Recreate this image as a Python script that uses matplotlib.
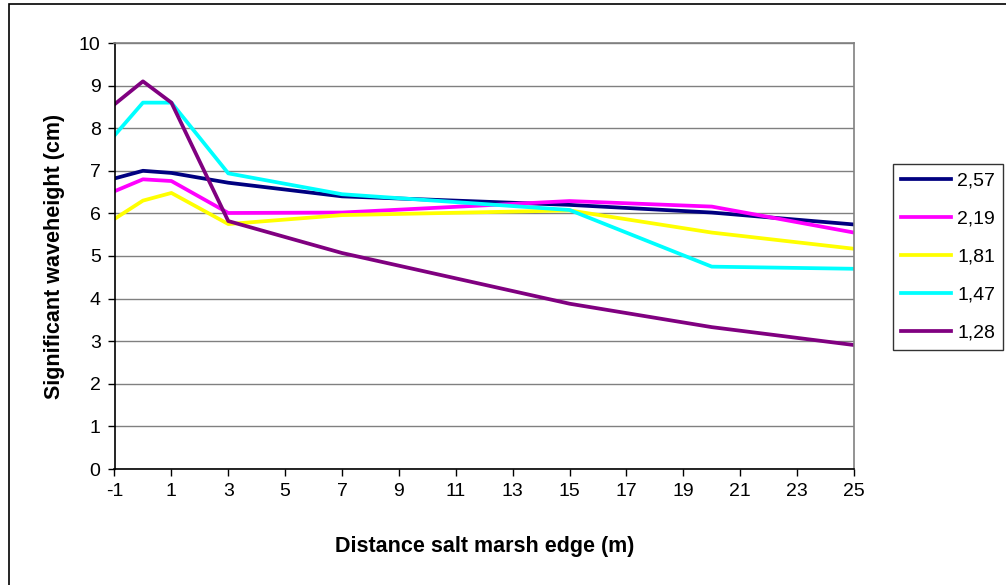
import matplotlib
matplotlib.use("Agg")
import matplotlib.pyplot as plt
from matplotlib.patches import Rectangle

plt.rcParams['font.family'] = ['Liberation Sans', 'DejaVu Sans']
plt.rcParams['axes.unicode_minus'] = False

# distance from salt marsh edge (m)
distance = [-1, 0, 1, 3, 7, 15, 20, 25]
labels = ['2,57', '2,19', '1,81', '1,47', '1,28']
h_257 = [6.82, 7.00, 6.95, 6.72, 6.40, 6.20, 6.02, 5.74]
h_219 = [6.52, 6.80, 6.76, 6.01, 6.02, 6.29, 6.16, 5.55]
h_181 = [5.87, 6.30, 6.48, 5.75, 5.96, 6.07, 5.55, 5.17]
h_147 = [7.83, 8.60, 8.60, 6.94, 6.45, 6.08, 4.75, 4.70]
h_128 = [8.56, 9.10, 8.60, 5.82, 5.07, 3.88, 3.33, 2.91]
series = [h_257, h_219, h_181, h_147, h_128]
colors = ['#000080', '#FF00FF', '#FFFF00', '#00FFFF', '#800080']

fig = plt.figure(figsize=(10.06, 5.85), dpi=100)
ax = fig.add_axes([114.5/1006, 1-469/585, (854-114.5)/1006, (469-43)/585])

# outer chart frame
fig.patches.append(Rectangle((9/1006, -0.1), 1.2, 1-4/585+0.1, transform=fig.transFigure,
                             fill=False, edgecolor='black', linewidth=1.2))

for vals, c, lab in zip(series, colors, labels):
    ax.plot(distance, vals, color=c, linewidth=2.7, label=lab)

ax.set_xlim(-1, 25)
ax.set_ylim(0, 10)
ax.set_xticks(range(-1, 26, 2))
ax.set_yticks(range(0, 11))
ax.yaxis.grid(True, color='#808080', linewidth=1)
ax.set_axisbelow(True)
for s in ['top', 'right']:
    ax.spines[s].set_color('#808080')
    ax.spines[s].set_linewidth(1.2)
for s in ['left', 'bottom']:
    ax.spines[s].set_color('black')
    ax.spines[s].set_linewidth(1.2)
ax.tick_params(direction='out', length=5, width=1, labelsize=14, pad=5)

ax.set_xlabel('Distance salt marsh edge (m)', fontsize=15.5, fontweight='bold', labelpad=26)
ax.set_ylabel('Significant waveheight (cm)', fontsize=15.5, fontweight='bold', labelpad=10)

leg = ax.legend(loc='center left', bbox_to_anchor=(893/1006, 1-352/585, 110/1006, 190/585),
                bbox_transform=fig.transFigure, frameon=True, fancybox=False,
                fontsize=14, handlelength=2.6, handletextpad=0.3, labelspacing=1.05,
                borderaxespad=0, borderpad=0.4)
leg.get_frame().set_edgecolor('black')
leg.get_frame().set_linewidth(1)

fig.savefig('out.png', dpi=100)
